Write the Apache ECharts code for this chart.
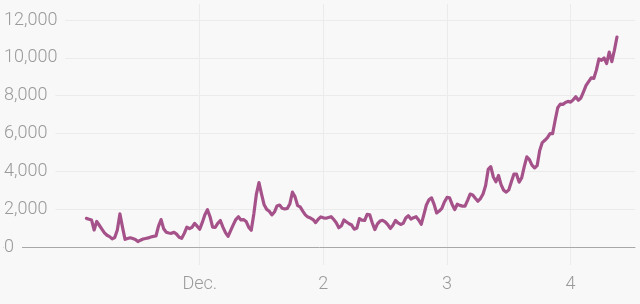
<!DOCTYPE html>
<html>
<head>
<meta charset="utf-8">
<script src="https://cdn.jsdelivr.net/npm/echarts@6/dist/echarts.min.js"></script>
<style>
  html, body { margin: 0; padding: 0; background: #f8f8f8; }
  #chart { width: 640px; height: 304px; }
</style>
</head>
<body>
<div id="chart"></div>
<script>
// Half-hour slots across the visible x range (slot 0 = left edge of plot)
const SLOT_COUNT = 246;
const FIRST_DATA_SLOT = 32;
// Tick positions (slot index) and their labels
const tickSlots = [76, 124, 172, 220];
const tickLabels = ["Dec.", "2", "3", "4"];
// Series values (half-hourly), starting at FIRST_DATA_SLOT
const values = [
  1514, 1470, 1425, 900, 1350, 1150, 950, 750, 620, 550,
  430, 500, 900, 1750, 1050, 406, 450, 490, 450, 400,
  290, 360, 420, 450, 480, 530, 560, 580, 1100, 1450,
  960, 780, 740, 723, 780, 680, 520, 460, 720, 1050,
  970, 1040, 1250, 1100, 940, 1300, 1700, 1970, 1600, 1050,
  1040, 1250, 1400, 1050, 760, 560, 870, 1170, 1450, 1600,
  1430, 1450, 1350, 1050, 880, 1750, 2800, 3400, 2800, 2230,
  1990, 1890, 1700, 1850, 2170, 2220, 2050, 2010, 2040, 2290,
  2900, 2650, 2190, 2120, 1900, 1700, 1580, 1530, 1450, 1290,
  1470, 1590, 1540, 1520, 1560, 1600, 1460, 1280, 1020, 1120,
  1430, 1320, 1230, 1161, 940, 1000, 1500, 1420, 1400, 1730,
  1700, 1270, 920, 1220, 1370, 1410, 1330, 1180, 980, 1150,
  1400, 1270, 1190, 1250, 1530, 1650, 1480, 1550, 1600, 1430,
  1200, 1700, 2220, 2500, 2600, 2250, 1800, 1900, 2040, 2380,
  2620, 2600, 2250, 1980, 2260, 2200, 2160, 2164, 2470, 2800,
  2750, 2580, 2420, 2560, 2800, 3250, 4100, 4250, 3700, 3450,
  3780, 3300, 3000, 2900, 3020, 3450, 3860, 3850, 3430, 3650,
  4250, 4765, 4620, 4330, 4180, 4300, 5100, 5520, 5640, 5780,
  5990, 5990, 6700, 7360, 7550, 7540, 7640, 7700, 7660, 7780,
  7940, 7760, 7880, 8200, 8540, 8740, 8940, 8910, 9350, 9940,
  9870, 9990, 9700, 10300, 9800, 10400, 11100
];
const yMin = 0, yMax = 12000, yStep = 2000;

const categories = [];
for (let i = 0; i < SLOT_COUNT; i++) categories.push(String(i));
const seriesData = categories.map((c, i) => {
  const j = i - FIRST_DATA_SLOT;
  return (j >= 0 && j < values.length) ? values[j] : null;
});
const isTick = (idx) => tickSlots.indexOf(idx) >= 0;

const FONT = 'Roboto';
const chart = echarts.init(document.getElementById('chart'), null, { renderer: 'canvas' });
chart.setOption({
  backgroundColor: '#f8f8f8',
  animation: false,
  grid: [
    { left: 4, right: 5, top: 4, bottom: 39 },
    { left: 4, right: 5, top: 20, bottom: 57 }
  ],
  xAxis: [
    {
      gridIndex: 0, type: 'category', boundaryGap: false, data: categories, z: 0,
      axisLine: { show: false }, axisTick: { show: false },
      splitLine: { show: true, interval: (idx) => isTick(idx), lineStyle: { color: '#ebebeb', width: 1 } },
      axisLabel: {
        show: true, interval: (idx) => isTick(idx), margin: 10,
        formatter: (v, idx) => { const p = tickSlots.indexOf(Number(v)); return p >= 0 ? tickLabels[p] : ''; },
        color: '#9a9a9a', fontFamily: FONT, fontWeight: 300, fontSize: 18
      }
    },
    {
      gridIndex: 1, type: 'category', boundaryGap: false, data: categories, z: 1,
      axisLine: { show: true, lineStyle: { color: '#a8a8a8', width: 1 } },
      axisTick: { show: false }, axisLabel: { show: false }, splitLine: { show: false }
    }
  ],
  yAxis: [
    { gridIndex: 0, type: 'value', show: false, splitLine: { show: false } },
    {
      gridIndex: 1, type: 'value', min: yMin, max: yMax, interval: yStep, z: 5,
      axisLine: { show: false }, axisTick: { show: false },
      splitLine: { show: true, showMinLine: false, lineStyle: { color: '#ebebeb', width: 1 } },
      axisLabel: {
        inside: true, margin: 0, align: 'left', verticalAlign: 'middle',
        formatter: (v) => Number(v).toLocaleString('en-US'),
        color: '#9a9a9a', fontFamily: FONT, fontWeight: 300, fontSize: 18,
        backgroundColor: '#f8f8f8', padding: [2, 8, 2, 0]
      }
    }
  ],
  series: [{
    type: 'line', xAxisIndex: 1, yAxisIndex: 1, data: seriesData,
    showSymbol: false, symbol: 'none', connectNulls: false, z: 10,
    lineStyle: { color: '#a6528a', width: 3.2, join: 'round', cap: 'round' }
  }]
});
</script>
</body>
</html>
